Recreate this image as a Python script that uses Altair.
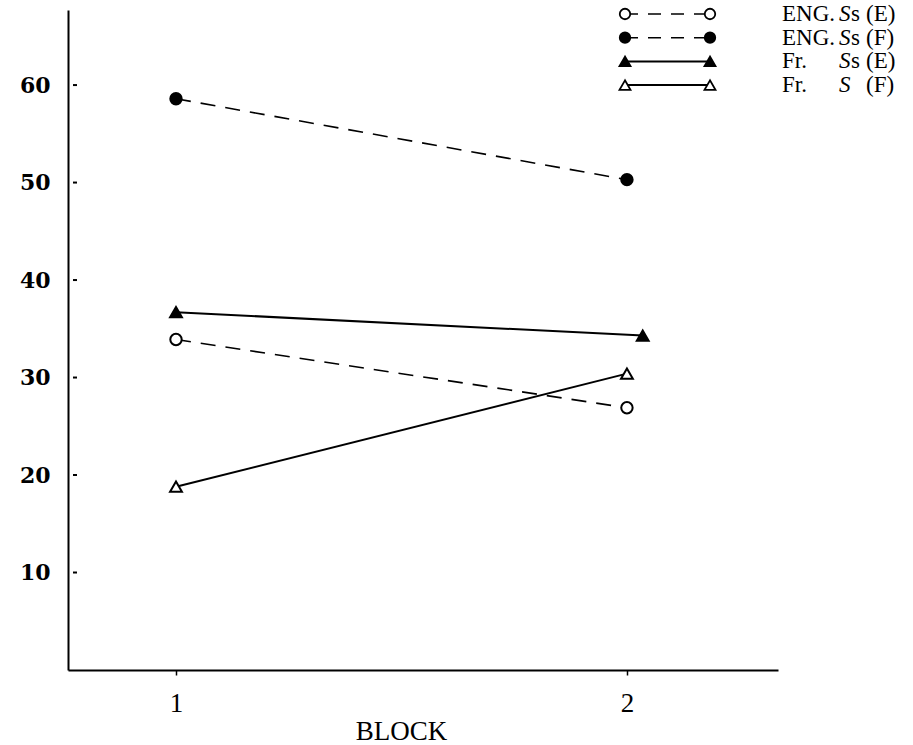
import altair as alt
import pandas as pd

# ---- data ----
BLOCKS = [1, 2]
ENG_E = [33.9, 26.9]      # ENG. Ss (E)  open circles, dashed
ENG_F = [58.6, 50.3]      # ENG. Ss (F)  filled circles, dashed
FR_E = [36.7, 34.3]       # Fr. Ss (E)   filled triangles, solid
FR_F = [18.8, 30.4]       # Fr. S (F)    open triangles, solid
FR_E_BLOCK = [1, 2.035]   # this series' right point sits slightly right of 2
Y_TICKS = [10, 20, 30, 40, 50, 60]
X_TICKS = [1, 2]

SERIES = [
    ("ENG_E", BLOCKS, ENG_E, "circle", False, True),
    ("ENG_F", BLOCKS, ENG_F, "circle", True, True),
    ("FR_E", FR_E_BLOCK, FR_E, "triangle-up", True, False),
    ("FR_F", BLOCKS, FR_F, "triangle-up", False, False),
]
LEG_PREFIX = ["ENG.", "ENG.", "Fr.", "Fr."]
LEG_S = ["S", "S", "S", "S"]
LEG_SMALL = ["s", "s", "s", ""]
LEG_PAREN = ["(E)", "(F)", "(E)", "(F)"]

W, H = 710, 660
FONT = "Liberation Serif"

xscale = alt.Scale(domain=[0.7605, 2.335], nice=False, zero=False)
yscale = alt.Scale(domain=[0, 67.7], nice=False, zero=False)

layers = []

axis_df = pd.DataFrame({"block": X_TICKS, "v": [0, 0]})
base = alt.Chart(axis_df).mark_point(opacity=0).encode(
    x=alt.X("block:Q", scale=xscale,
            axis=alt.Axis(values=X_TICKS, format="d", title="BLOCK",
                          grid=False, domainColor="black", domainWidth=2,
                          tickColor="black", tickSize=5, tickWidth=1.5,
                          labelFont=FONT, labelFontSize=27, labelColor="black",
                          labelPadding=15, titleFont=FONT, titleFontSize=27,
                          titleFontWeight="normal", titleColor="black",
                          titlePadding=2, titleX=333, titleAlign="center")),
    y=alt.Y("v:Q", scale=yscale,
            axis=alt.Axis(values=Y_TICKS, title=None, grid=False, ticks=False,
                          domainColor="black", domainWidth=2,
                          labelFont="DejaVu Serif", labelFontWeight="bold",
                          labelFontSize=22, labelColor="black",
                          labelPadding=18)),
)
layers.append(base)

tick_df = pd.DataFrame({"t": Y_TICKS})
layers.append(
    alt.Chart(tick_df).mark_rule(color="black", strokeWidth=2).encode(
        x=alt.value(5), x2=alt.value(9), y=alt.Y("t:Q", scale=yscale)
    )
)

for name, xs, ys, shape, filled, dashed in SERIES:
    df = pd.DataFrame({"block": xs, "val": ys})
    enc = dict(x=alt.X("block:Q", scale=xscale), y=alt.Y("val:Q", scale=yscale))
    line_kw = dict(color="black", strokeWidth=1.6 if dashed else 2)
    if dashed:
        line_kw["strokeDash"] = [15, 10]
    layers.append(alt.Chart(df).mark_line(**line_kw).encode(**enc))
    layers.append(
        alt.Chart(df).mark_point(
            shape=shape, size=130 if shape == "circle" else 140,
            filled=True, fill="black" if filled else "white",
            stroke="black", strokeWidth=2, opacity=1,
        ).encode(**enc)
    )

# manual legend (top right)
for i, (name, xs, ys, shape, filled, dashed) in enumerate(SERIES):
    yp = 4 + i * 23.7
    one = pd.DataFrame({"k": [0]})
    line_kw = dict(color="black", strokeWidth=1.6 if dashed else 2)
    if dashed:
        line_kw["strokeDash"] = [13, 10]
    layers.append(alt.Chart(one).mark_rule(**line_kw).encode(
        x=alt.value(557), x2=alt.value(642), y=alt.value(yp)))
    for xp in (557, 642):
        layers.append(alt.Chart(one).mark_point(
            shape=shape, size=110 if shape == "circle" else 120,
            filled=True, fill="black" if filled else "white",
            stroke="black", strokeWidth=1.8, opacity=1,
        ).encode(x=alt.value(xp), y=alt.value(yp)))
    parts = [
        (LEG_PREFIX[i], 714, "normal"),
        (LEG_S[i], 771, "italic"),
        (LEG_SMALL[i], 783, "normal"),
        (LEG_PAREN[i], 798, "normal"),
    ]
    for txt, xp, style in parts:
        if not txt:
            continue
        layers.append(alt.Chart(one).mark_text(
            text=txt, font=FONT, fontSize=23, fontStyle=style, color="black",
            align="left", baseline="middle",
        ).encode(x=alt.value(xp), y=alt.value(yp)))

chart = alt.layer(*layers).properties(
    width=W, height=H,
    padding={"left": 68, "top": 10, "right": 135, "bottom": 75},
    autosize=alt.AutoSizeParams(type="none"),
    background="white",
).configure_view(stroke=None)

chart.save("out.html", embed_options={"renderer": "svg", "actions": False})
